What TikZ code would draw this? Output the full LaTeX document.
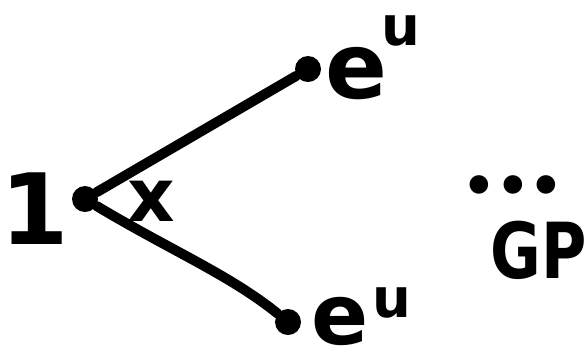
\documentclass[tikz,border=0pt]{standalone}
\usepackage{fontspec}
\setmainfont{DejaVu Sans}
\begin{document}
\begin{tikzpicture}[x=0.02cm,y=-0.02cm,
  dotnode/.style={circle,fill=black,inner sep=0pt,minimum size=26*0.02cm},
  edge/.style={line width=10*0.02cm,line cap=round},
  lbl/.style={inner sep=0pt,font=\bfseries\fontsize{#1}{#1}\selectfont}]
\useasboundingbox (0,0) rectangle (585,360);
\node[dotnode] (a) at (85,199) {};
\node[dotnode] (b) at (308,69) {};
\node[dotnode] (c) at (288,322) {};
\draw[edge] (a) -- (b);
\draw[edge] (a) .. controls (170,250) and (230,275) .. (c);
\node[lbl=56] (one) at (35,209) {1};
\node[lbl=42] (x) at (151,201) {x};
\node[lbl=52,anchor=base west] (eu1) at (325,98) {e\hspace{-0.12cm}\raisebox{30pt}{\fontsize{31}{31}\selectfont u}};
\node[lbl=48,anchor=base west] (eu2) at (311,344) {e\hspace{0.08cm}\raisebox{15pt}{\fontsize{31}{31}\selectfont u}};
\node[lbl=30] (dots) at (513,190) {•••};
\node[lbl=44] (gp) at (539,250) {\scalebox{0.8}[1]{GP}};
\end{tikzpicture}
\end{document}
